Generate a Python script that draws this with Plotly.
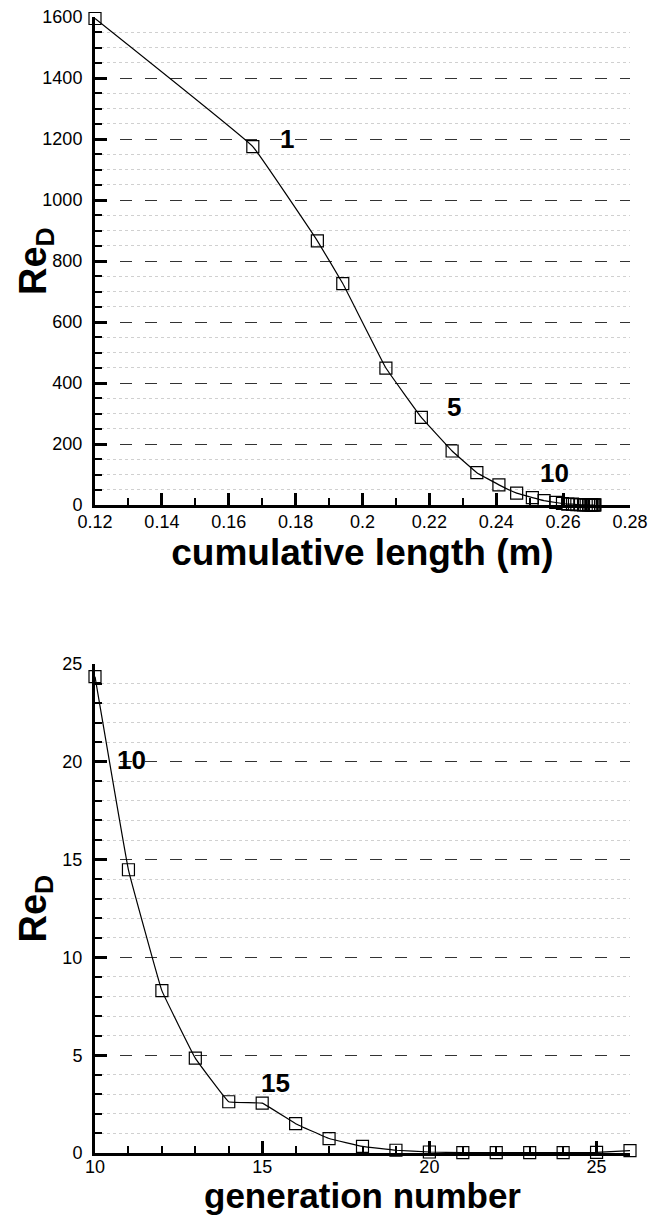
import plotly.graph_objects as go

# ---- data: top panel (cumulative length vs Re_D), generations 0..26
cum_length = [0.1200, 0.1672, 0.1865, 0.1941, 0.2070, 0.2176, 0.2268, 0.2342, 0.2408,
              0.2461, 0.2508, 0.2543, 0.2578, 0.2598, 0.2614, 0.2628, 0.2641, 0.2652,
              0.2661, 0.2669, 0.2676, 0.2681, 0.2685, 0.2689, 0.2692, 0.2694, 0.2695]
re_top = [1595, 1175, 866, 726, 449, 287, 177, 106, 66, 39, 24.4, 14.5, 8.3, 4.85,
          2.62, 2.55, 1.5, 0.74, 0.34, 0.14, 0.05, 0.02, 0.02, 0.02, 0.02, 0.03, 0.12]

# ---- data: bottom panel (generation number vs Re_D)
generation = [10, 11, 12, 13, 14, 15, 16, 17, 18, 19, 20, 21, 22, 23, 24, 25, 26]
re_bottom = [24.35, 14.48, 8.3, 4.85, 2.62, 2.55, 1.5, 0.74, 0.34, 0.14, 0.05,
             0.02, 0.02, 0.02, 0.02, 0.03, 0.12]

# ---- generation labels
top_labels = ["1", "5", "10"]
top_label_x = [0.1775, 0.2273, 0.2573]
top_label_y = [1200, 320, 104]
bot_labels = ["10", "15"]
bot_label_x = [11.1, 15.4]
bot_label_y = [20.1, 3.6]

W, H = 653, 1216
FONT = "Liberation Sans, Arial, sans-serif"

fig = go.Figure()

line_style = dict(color="black", width=1.2, shape="spline", smoothing=0.2)
marker_style = dict(symbol="square-open", size=12, color="black", line=dict(width=1.2, color="#222"))

fig.add_trace(go.Scatter(x=cum_length, y=re_top, mode="lines+markers", line=line_style,
                         marker=marker_style, xaxis="x", yaxis="y", cliponaxis=False,
                         showlegend=False))
fig.add_trace(go.Scatter(x=generation, y=re_bottom, mode="lines+markers", line=line_style,
                         marker=marker_style, xaxis="x2", yaxis="y2", cliponaxis=False,
                         showlegend=False))

xdom = [95 / W, 630 / W]
top_dom = [1 - 505 / H, 1 - 17 / H]
bot_dom = [1 - 1153 / H, 1 - 664 / H]

tickfont = dict(family=FONT, size=18, color="black")

def xaxis_common(rng, dtick, minor_dtick, anchor, dom, standoff):
    return dict(
        domain=dom, range=rng, anchor=anchor, dtick=dtick, tick0=rng[0],
        showline=True, linecolor="black", linewidth=3, mirror=False,
        ticks="inside", ticklen=12, tickwidth=3, tickcolor="black",
        showgrid=False, zeroline=False, tickfont=tickfont, automargin=False,
        ticklabelstandoff=standoff,
        minor=dict(dtick=minor_dtick, ticks="inside", ticklen=7, tickwidth=2,
                   tickcolor="black", showgrid=False),
    )

def yaxis_common(rng, dtick, minor_dtick, anchor, dom):
    return dict(
        domain=dom, range=rng, anchor=anchor, dtick=dtick, tick0=0,
        showline=True, linecolor="black", linewidth=3, mirror=False,
        ticks="inside", ticklen=12, tickwidth=3, tickcolor="black",
        showgrid=True, gridcolor="#333333", gridwidth=1, griddash="12px,13px",
        zeroline=False, tickfont=tickfont, ticklabelstandoff=6, automargin=False,
        minor=dict(dtick=minor_dtick, ticks="inside", ticklen=7, tickwidth=2,
                   tickcolor="black", showgrid=True, gridcolor="#d0d0d0",
                   gridwidth=1, griddash="dot"),
    )

xa1 = xaxis_common([0.12, 0.28], 0.02, 0.01, "y", xdom, -2)
xa1["title"] = dict(text="cumulative length (m)",
                    font=dict(family=FONT, size=37, color="black", weight="bold"), standoff=2)

fig.update_layout(
    width=W, height=H, autosize=False,
    margin=dict(l=0, r=0, t=0, b=0, autoexpand=False),
    paper_bgcolor="white", plot_bgcolor="white",
    xaxis=xa1,
    yaxis=yaxis_common([0, 1600], 200, 50, "x", top_dom),
    xaxis2=xaxis_common([10, 26], 5, 1, "y2", xdom, -5),
    yaxis2=yaxis_common([0, 25], 5, 1, "x2", bot_dom),
)

# bottom x-axis title placed at the very bottom edge
fig.add_annotation(text="generation number", xref="paper", yref="paper",
                   x=(xdom[0] + xdom[1]) / 2, y=0, xanchor="center", yanchor="bottom",
                   showarrow=False, borderpad=0,
                   font=dict(family=FONT, size=35, color="black", weight="bold"))

# y-axis titles (Re_D), placed at the same horizontal position for both panels
ytitle_font = dict(family=FONT, size=38, color="black", weight="bold")
for dom in (top_dom, bot_dom):
    fig.add_annotation(text="Re<sub>D</sub>", textangle=-90, xref="paper", yref="paper",
                       x=36 / W, y=(dom[0] + dom[1]) / 2, xanchor="center", yanchor="middle",
                       showarrow=False, font=ytitle_font)

ann_font = dict(family=FONT, size=26, color="black", weight="bold")
for t, x, y in zip(top_labels, top_label_x, top_label_y):
    fig.add_annotation(text=t, x=x, y=y, xref="x", yref="y", showarrow=False, font=ann_font)
for t, x, y in zip(bot_labels, bot_label_x, bot_label_y):
    fig.add_annotation(text=t, x=x, y=y, xref="x2", yref="y2", showarrow=False, font=ann_font)

fig.write_html("out.html")
